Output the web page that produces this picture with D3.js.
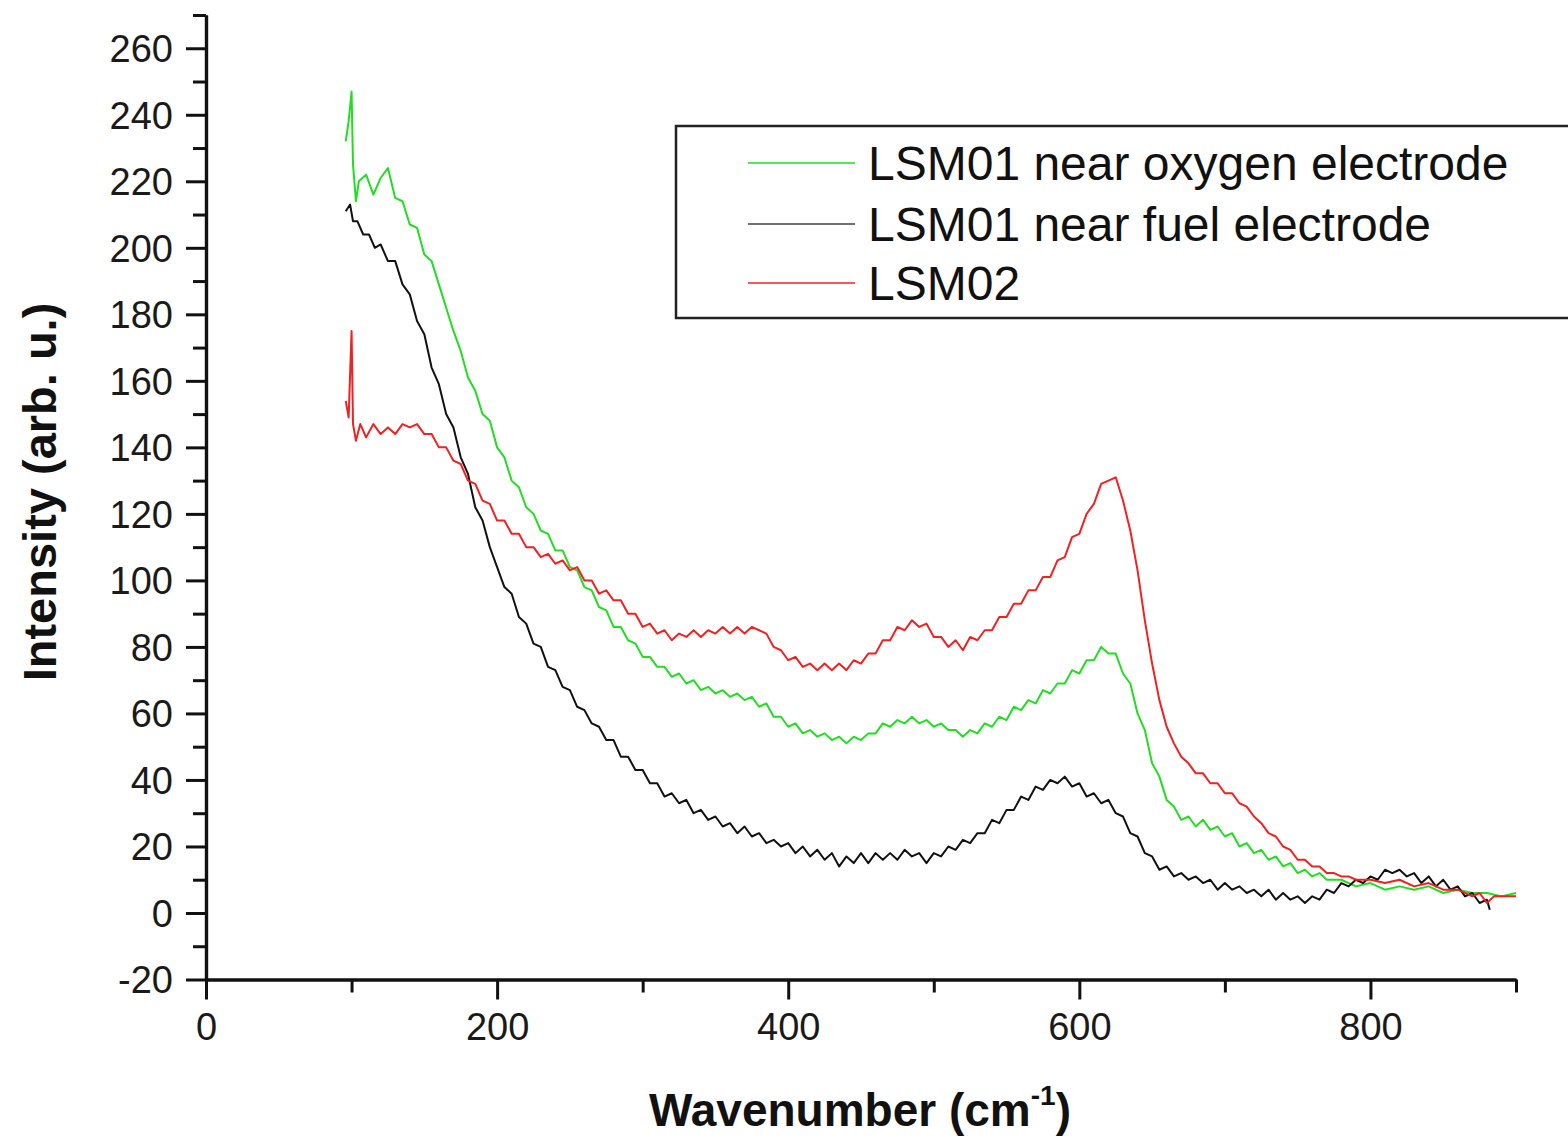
<!DOCTYPE html>
<html>
<head>
<meta charset="utf-8">
<script src="https://cdn.jsdelivr.net/npm/d3@7"></script>
<style>
  html, body { margin: 0; padding: 0; background: #fff; }
  svg { display: block; }
</style>
</head>
<body>
<svg id="chart" width="1568" height="1144"></svg>
<script>
// ---------------- DATA ----------------
const seriesNames = ["LSM01 near oxygen electrode", "LSM01 near fuel electrode", "LSM02"];
const seriesColors = ["#22dd22", "#111111", "#ee2222"];

const xTickValues = [0, 200, 400, 600, 800];
const xMinorTicks = [100, 300, 500, 700, 900];
const yTickValues = [-20, 0, 20, 40, 60, 80, 100, 120, 140, 160, 180, 200, 220, 240, 260];
const yMinorTicks = [-10, 10, 30, 50, 70, 90, 110, 130, 150, 170, 190, 210, 230, 250, 270];

const greenX = [96,98,100,101,103,105,110,115,120,125,130,135,140,145,150,155,160,165,170,175,180,185,190,195,200,205,210,215,220,225,230,235,240,245,250,255,260,265,270,275,280,285,290,295,300,305,310,315,320,325,330,335,340,345,350,355,360,365,370,375,380,385,390,395,400,405,410,415,420,425,430,435,440,445,450,455,460,465,470,475,480,485,490,495,500,505,510,515,520,525,530,535,540,545,550,555,560,565,570,575,580,585,590,595,600,605,610,615,620,625,630,635,640,645,650,655,660,665,670,675,680,685,690,695,700,705,710,715,720,725,730,735,740,745,750,755,760,765,770,780,790,800,810,820,830,840,850,860,870,880,890,900];
const greenY = [232,238,247,225,214,220,222,216,221,224,215,214,207,206,198,196,189,182,175,169,161,157,150,148,140,137,130,128,122,120,115,114,109,109,104,103,98,97,92,91,86,86,82,81,77,77,74,74,71,72,69,70,67,68,66,67,65,66,64,65,62,63,59,59,56,57,54,55,53,54,52,53,51,53,52,54,54,57,56,58,57,59,57,58,56,57,55,55,53,55,54,57,56,59,58,62,61,64,63,67,66,69,69,73,72,76,76,80,78,78,72,69,60,55,45,41,34,32,28,29,26,28,25,26,23,24,20,21,18,19,16,17,14,15,12,13,11,12,10,10,8,9,7,8,7,8,6,7,6,6,5,6];

const blackX = [96,99,101,104,108,112,116,120,125,130,135,140,145,150,155,160,165,170,175,180,185,190,195,200,205,210,215,220,225,230,235,240,245,250,255,260,265,270,275,280,285,290,295,300,305,310,315,320,325,330,335,340,345,350,355,360,365,370,375,380,385,390,395,400,405,410,415,420,425,430,435,440,445,450,455,460,465,470,475,480,485,490,495,500,505,510,515,520,525,530,535,540,545,550,555,560,565,570,575,580,585,590,595,600,605,610,615,620,625,630,635,640,645,650,655,660,665,670,675,680,685,690,695,700,705,710,715,720,725,730,735,740,745,750,755,760,765,770,775,780,785,790,795,800,805,810,815,820,825,830,835,840,845,850,855,860,865,870,875,880,882];
const blackY = [211,213,208,208,204,204,200,201,196,196,189,186,178,174,164,159,150,146,137,132,122,118,110,104,98,96,89,87,81,80,74,73,68,67,62,61,57,56,52,52,47,47,43,43,39,39,35,36,33,34,30,31,28,29,26,27,24,26,23,24,21,22,20,21,18,20,17,19,16,18,14,17,15,18,15,18,16,18,16,19,17,18,15,18,17,20,19,22,21,24,24,28,27,31,31,35,34,38,37,40,39,41,38,39,35,36,33,34,30,29,24,23,18,17,13,14,11,12,10,11,9,10,7,9,7,8,6,7,5,7,4,6,4,5,3,5,4,7,6,9,8,10,9,11,10,13,12,13,11,12,9,11,8,10,7,8,5,6,3,4,1];

const redX = [96,98,100,101,103,106,110,115,120,125,130,135,140,145,150,155,160,165,170,175,180,185,190,195,200,205,210,215,220,225,230,235,240,245,250,255,260,265,270,275,280,285,290,295,300,305,310,315,320,325,330,335,340,345,350,355,360,365,370,375,380,385,390,395,400,405,410,415,420,425,430,435,440,445,450,455,460,465,470,475,480,485,490,495,500,505,510,515,520,525,530,535,540,545,550,555,560,565,570,575,580,585,590,595,600,605,610,615,620,625,630,635,640,645,650,655,660,665,670,675,680,685,690,695,700,705,710,715,720,725,730,735,740,745,750,755,760,765,770,775,780,785,790,800,810,820,830,840,850,860,870,875,880,885,890,900];
const redY = [154,149,175,147,142,147,143,147,144,146,144,147,146,147,144,144,140,140,136,135,130,129,124,123,118,118,114,114,110,110,107,108,105,106,103,104,100,100,96,97,94,94,90,90,86,87,84,85,82,84,83,85,83,85,84,86,84,86,84,86,85,84,80,79,76,77,74,75,73,75,73,75,73,76,75,78,78,82,82,86,85,88,86,87,83,83,80,82,79,83,82,85,85,89,89,93,93,97,97,101,101,106,107,113,114,120,123,129,130,131,124,115,103,88,75,64,56,51,47,45,42,42,39,39,36,36,33,32,29,27,24,23,20,19,16,16,14,14,12,12,11,11,10,10,9,10,8,9,7,7,5,6,3,5,5,5];

const seriesX = [greenX, blackX, redX];
const seriesY = [greenY, blackY, redY];

// ---------------- CHART ----------------
const FONT = "'Liberation Sans', Arial, Helvetica, sans-serif";
const svg = d3.select("#chart");

const x = d3.scaleLinear().domain([0, 900]).range([206, 1516]);
const y = d3.scaleLinear().domain([-20, 270]).range([979.5, 15]);

// curves
const line = d3.line().x(d => x(d[0])).y(d => y(d[1]));
seriesNames.forEach((name, i) => {
  const pts = seriesX[i].map((v, k) => [v, seriesY[i][k]]);
  svg.append("path")
    .datum(pts)
    .attr("fill", "none")
    .attr("stroke", seriesColors[i])
    .attr("stroke-width", 2)
    .attr("stroke-linejoin", "round")
    .attr("d", line);
});

// axes
const axisColor = "#111";
const fmt = d => String(d);
const xAxis = svg.append("g").attr("transform", `translate(0,${y(-20)})`)
  .call(d3.axisBottom(x).tickValues(xTickValues).tickFormat(fmt).tickSize(20).tickPadding(14).tickSizeOuter(0));
const xMinor = svg.append("g").attr("transform", `translate(0,${y(-20)})`)
  .call(d3.axisBottom(x).tickValues(xMinorTicks).tickSize(13).tickFormat("").tickSizeOuter(0));
const yAxis = svg.append("g").attr("transform", `translate(${x(0)},0)`)
  .call(d3.axisLeft(y).tickValues(yTickValues).tickFormat(fmt).tickSize(20).tickPadding(13).tickSizeOuter(0));
const yMinor = svg.append("g").attr("transform", `translate(${x(0)},0)`)
  .call(d3.axisLeft(y).tickValues(yMinorTicks).tickSize(13).tickFormat("").tickSizeOuter(0));

[xAxis, xMinor, yAxis, yMinor].forEach(g => {
  g.selectAll("path.domain").attr("stroke", axisColor).attr("stroke-width", 3.2);
  g.selectAll(".tick line").attr("stroke", axisColor).attr("stroke-width", 3);
  g.selectAll("text").attr("fill", "#1a1a1a").style("font-family", FONT).style("font-size", "38px");
});
xAxis.selectAll("text").attr("dy", "0.71em");
yAxis.selectAll("text").attr("dy", "0.35em");

// axis titles
svg.append("text")
  .attr("transform", "translate(56,492) rotate(-90)")
  .attr("text-anchor", "middle")
  .style("font-family", FONT).style("font-size", "47px").style("font-weight", "bold")
  .attr("fill", "#111")
  .text("Intensity (arb. u.)");

const xt = svg.append("text")
  .attr("x", 860).attr("y", 1126)
  .attr("text-anchor", "middle")
  .style("font-family", FONT).style("font-size", "46px").style("font-weight", "bold")
  .attr("fill", "#111");
xt.append("tspan").text("Wavenumber (cm");
xt.append("tspan").attr("dy", -21).style("font-size", "28px").text("-1");
xt.append("tspan").attr("dy", 21).text(")");

// legend
const lg = svg.append("g");
lg.append("rect")
  .attr("x", 676).attr("y", 126).attr("width", 960).attr("height", 192)
  .attr("fill", "#fff").attr("stroke", "#222").attr("stroke-width", 2.5);
const legendY = [163, 224, 283];
seriesNames.forEach((name, i) => {
  lg.append("line")
    .attr("x1", 748).attr("x2", 855)
    .attr("y1", legendY[i]).attr("y2", legendY[i])
    .attr("stroke", seriesColors[i]).attr("stroke-width", 2)
    .attr("stroke-opacity", i === 1 ? 0.6 : 0.75);
  lg.append("text")
    .attr("x", 868).attr("y", legendY[i]).attr("dy", "0.36em")
    .style("font-family", FONT).style("font-size", "48px")
    .attr("fill", "#111")
    .text(name);
});
</script>
</body>
</html>
